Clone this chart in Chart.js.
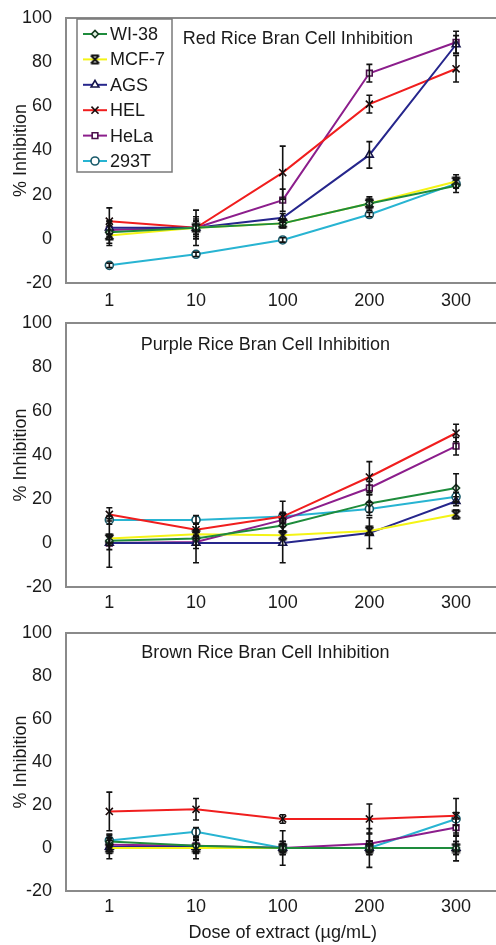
<!DOCTYPE html>
<html>
<head>
<meta charset="utf-8">
<script src="https://cdn.jsdelivr.net/npm/chart.js@4"></script>
<style>
  html, body { margin: 0; padding: 0; background: #fff; overflow: hidden; width: 496px; height: 945px; }
  .panel { position: absolute; left: 0; }
</style>
</head>
<body>
<div class="panel" style="top:0"><canvas id="c1" width="506" height="310"></canvas></div>
<div class="panel" style="top:310px"><canvas id="c2" width="506" height="310"></canvas></div>
<div class="panel" style="top:620px"><canvas id="c3" width="506" height="325"></canvas></div>
<script>
// ---------- DATA ----------
const doses = ['1', '10', '100', '200', '300'];
const cellLines = ['WI-38', 'MCF-7', 'AGS', 'HEL', 'HeLa', '293T'];
const panelTitles = ['Red Rice Bran Cell Inhibition', 'Purple Rice Bran Cell Inhibition', 'Brown Rice Bran Cell Inhibition'];
const yAxisTitle = '% Inhibition';
const xAxisTitle = 'Dose of extract (\u00b5g/mL)';
const yTicks = [-20, 0, 20, 40, 60, 80, 100];

// Red rice bran
const redWI38 = [3, 5, 7, 16, 24];
const redMCF7 = [1.5, 5, 7, 16, 26];
const redAGS  = [5, 5, 9.5, 38, 88];
const redHEL  = [8, 5, 30, 61, 77];
const redHeLa = [4, 5, 17.5, 75, 89];
const red293T = [-12, -7, -0.5, 11, 25];
const redWI38Err = [5, 8, 2, 2, 3];
const redMCF7Err = [4.5, 5, 2, 3, 3];
const redAGSErr  = [3, 3, 2, 6, 4];
const redHELErr  = [6, 4, 12, 4, 6];
const redHeLaErr = [3, 3, 5, 4, 5];
const red293TErr = [1, 1, 1, 1, 2];

// Purple rice bran
const purWI38 = [1, 2, 8, 18, 25];
const purMCF7 = [2, 4, 3.5, 5.5, 13];
const purAGS  = [0, 0, 0, 4.5, 19];
const purHEL  = [13, 6, 12, 30, 50];
const purHeLa = [0, 0.5, 10.5, 25, 44];
const pur293T = [10.5, 10.5, 12, 15.5, 21];
const purWI38Err = [2, 3, 3, 4, 6.5];
const purMCF7Err = [2, 2, 2, 2, 2];
const purAGSErr  = [11, 9, 9, 7, 2];
const purHELErr  = [3, 3, 7, 7, 4];
const purHeLaErr = [3, 3, 3, 3, 4];
const pur293TErr = [2, 2, 2, 3, 2];

// Brown rice bran
const brnWI38 = [3, 1, 0, 0, 0];
const brnMCF7 = [0, 0, 0, 0, 0];
const brnAGS  = [0.5, 0.5, 0, 0, 0];
const brnHEL  = [17, 18, 13.5, 13.5, 15];
const brnHeLa = [1.5, 1, 0, 2, 9.5];
const brn293T = [3.5, 7.5, 0, 0, 13.5];
const brnWI38Err = [3, 3, 3, 3, 3];
const brnMCF7Err = [5, 5, 8, 9, 6];
const brnAGSErr  = [3, 3, 3, 3, 3];
const brnHELErr  = [9, 5, 2, 7, 8];
const brnHeLaErr = [3, 3, 3, 5, 4];
const brn293TErr = [3, 2, 2, 2, 3];

// ---------- STYLES ----------
const FONT = "'Liberation Sans', Arial, Helvetica, sans-serif";
const TEXT = '#1a1a1a';
const lineColors = ['#1e8c3c', '#f4f416', '#26268c', '#f01e1e', '#8c1e8c', '#28b4d2'];

function hourglass() {
  const c = document.createElement('canvas');
  c.width = 11; c.height = 11;
  const g = c.getContext('2d');
  g.strokeStyle = '#111'; g.lineWidth = 2;
  g.beginPath();
  g.moveTo(1.5, 1.5); g.lineTo(9.5, 1.5);
  g.moveTo(1.5, 9.5); g.lineTo(9.5, 9.5);
  g.moveTo(1.5, 1.5); g.lineTo(9.5, 9.5);
  g.moveTo(9.5, 1.5); g.lineTo(1.5, 9.5);
  g.stroke();
  return c;
}
const mcfMarker = hourglass();
const pointStyles = ['rectRot', mcfMarker, 'triangle', 'crossRot', 'rect', 'circle'];
const pointRadii = [3.5, 5, 4.5, 5, 4, 4];
const pointBorders = ['#143a20', '#111', '#14144a', '#1a0a0a', '#4a104a', '#1a5a6a'];
const pointFills = ['#e0f0e0', '#111', '#ffffff', '#111', '#ffffff', '#ffffff'];

function buildDatasets(values, errors) {
  return cellLines.map((name, i) => ({
    label: name,
    data: values[i],
    errors: errors[i],
    borderColor: lineColors[i],
    backgroundColor: lineColors[i],
    borderWidth: 2,
    tension: 0,
    pointStyle: pointStyles[i],
    pointRadius: pointRadii[i],
    pointHoverRadius: pointRadii[i],
    pointBorderColor: pointBorders[i],
    pointBackgroundColor: pointFills[i],
    pointBorderWidth: 1.6
  }));
}

const errorBarPlugin = {
  id: 'errorBars',
  afterDatasetsDraw(chart) {
    const ctx = chart.ctx;
    const ys = chart.scales.y;
    ctx.save();
    ctx.strokeStyle = '#111';
    ctx.lineWidth = 1.6;
    chart.data.datasets.forEach((ds, di) => {
      const meta = chart.getDatasetMeta(di);
      meta.data.forEach((pt, j) => {
        const v = ds.data[j], e = ds.errors[j];
        if (!e) return;
        const yt = ys.getPixelForValue(v + e);
        const yb = ys.getPixelForValue(v - e);
        const x = pt.x;
        ctx.beginPath();
        ctx.moveTo(x, yt); ctx.lineTo(x, yb);
        ctx.moveTo(x - 3, yt); ctx.lineTo(x + 3, yt);
        ctx.moveTo(x - 3, yb); ctx.lineTo(x + 3, yb);
        ctx.stroke();
      });
    });
    ctx.restore();
  }
};

const boxPlugin = {
  id: 'plotBox',
  afterDraw(chart, args, opts) {
    const {ctx, chartArea: a} = chart;
    ctx.save();
    ctx.strokeStyle = '#8a8a8a';
    ctx.lineWidth = 2;
    ctx.strokeRect(a.left, a.top, a.right - a.left, a.bottom - a.top);
    // in-plot title
    ctx.fillStyle = TEXT;
    ctx.font = '18px ' + FONT;
    ctx.textAlign = 'center';
    ctx.textBaseline = 'middle';
    ctx.fillText(opts.text, a.left + opts.xFrac * (a.right - a.left), a.top + opts.dy);
    // legend
    if (opts.legend) {
      const L = opts.legend;
      const bx = a.left + L.dx, by = a.top + L.dy;
      ctx.fillStyle = '#fff';
      ctx.fillRect(bx, by, L.w, L.h);
      ctx.strokeStyle = '#7a7a7a';
      ctx.lineWidth = 1.5;
      ctx.strokeRect(bx, by, L.w, L.h);
      chart.data.datasets.forEach((ds, i) => {
        const y = by + L.first + i * L.step;
        ctx.strokeStyle = ds.borderColor;
        ctx.lineWidth = 2;
        ctx.beginPath();
        ctx.moveTo(bx + 6, y); ctx.lineTo(bx + 30, y);
        ctx.stroke();
        const px = bx + 18;
        if (Chart.helpers && Chart.helpers.drawPoint) {
          ctx.strokeStyle = ds.pointBorderColor;
          ctx.fillStyle = ds.pointBackgroundColor;
          ctx.lineWidth = ds.pointBorderWidth;
          Chart.helpers.drawPoint(ctx, {pointStyle: ds.pointStyle, radius: ds.pointRadius, rotation: 0, borderWidth: ds.pointBorderWidth}, px, y);
        }
        ctx.fillStyle = TEXT;
        ctx.font = '18px ' + FONT;
        ctx.textAlign = 'left';
        ctx.textBaseline = 'middle';
        ctx.fillText(ds.label, bx + 33, y + 1);
      });
    }
    ctx.restore();
  }
};

function makePanel(id, values, errors, titleIdx, cfg) {
  const canvas = document.getElementById(id);
  const H = canvas.height;
  return new Chart(canvas, {
    type: 'line',
    data: { labels: doses, datasets: buildDatasets(values, errors) },
    plugins: [errorBarPlugin, boxPlugin],
    options: {
      responsive: false,
      animation: false,
      devicePixelRatio: 1,
      layout: { padding: { top: cfg.top, left: 0, right: 2, bottom: 0 } },
      plugins: {
        legend: { display: false },
        tooltip: { enabled: false },
        plotBox: { text: panelTitles[titleIdx], xFrac: cfg.titleX, dy: cfg.titleDy, legend: cfg.legend || null }
      },
      scales: {
        x: {
          type: 'category',
          offset: true,
          grid: { display: false, drawTicks: false },
          border: { display: false },
          ticks: { color: TEXT, font: { family: FONT, size: 18 }, padding: cfg.tickPad, maxRotation: 0 },
          title: { display: !!cfg.xTitle, text: xAxisTitle, color: TEXT, font: { family: FONT, size: 18 }, padding: { top: 0, bottom: 1 } },
          afterFit(s) { s.height = H - cfg.bottom; s.paddingLeft = 0; s.paddingRight = 0; }
        },
        y: {
          min: -20, max: 100,
          afterBuildTicks(s) { s.ticks = yTicks.map(v => ({ value: v })); },
          grid: { display: false, drawTicks: false },
          border: { display: false },
          ticks: { color: TEXT, font: { family: FONT, size: 18 }, padding: 14 },
          title: { display: true, text: yAxisTitle, color: TEXT, font: { family: FONT, size: 18 }, padding: { top: 10, bottom: 0 } },
          afterFit(s) { s.width = 66; s.paddingTop = 0; s.paddingBottom = 0; }
        }
      }
    }
  });
}

makePanel('c1',
  [redWI38, redMCF7, redAGS, redHEL, redHeLa, red293T],
  [redWI38Err, redMCF7Err, redAGSErr, redHELErr, redHeLaErr, red293TErr],
  0, { top: 18, bottom: 283, tickPad: 7, titleX: 0.535, titleDy: 21,
       legend: { dx: 11, dy: 1, w: 95, h: 153, first: 15, step: 25.4 } });
makePanel('c2',
  [purWI38, purMCF7, purAGS, purHEL, purHeLa, pur293T],
  [purWI38Err, purMCF7Err, purAGSErr, purHELErr, purHeLaErr, pur293TErr],
  1, { top: 13, bottom: 277, tickPad: 5, titleX: 0.46, titleDy: 22 });
makePanel('c3',
  [brnWI38, brnMCF7, brnAGS, brnHEL, brnHeLa, brn293T],
  [brnWI38Err, brnMCF7Err, brnAGSErr, brnHELErr, brnHeLaErr, brn293TErr],
  2, { top: 13, bottom: 271, tickPad: 5, titleX: 0.46, titleDy: 20, xTitle: true });
</script>
</body>
</html>
